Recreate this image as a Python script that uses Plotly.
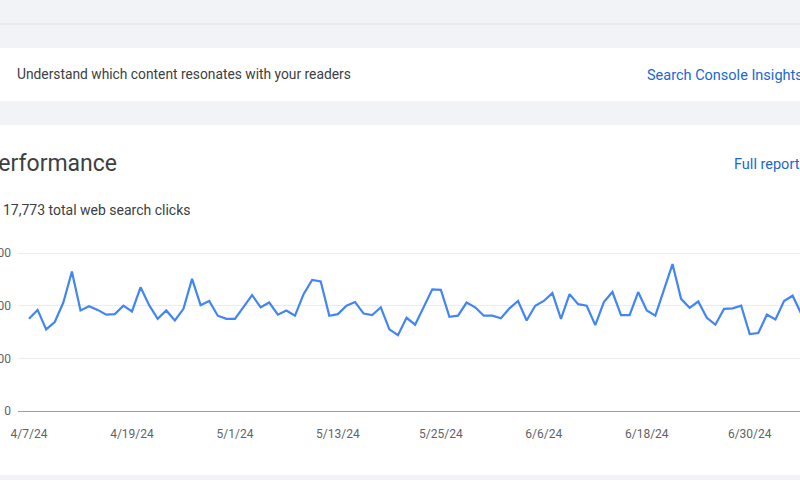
import pandas as pd
import plotly.graph_objects as go

# ---- data ----
start_date = "2024-04-07"
clicks = [
    175, 192, 155, 169, 206, 265, 191, 199, 192, 183, 184, 200, 189, 235, 201,
    175, 191, 172, 194, 251, 201, 209, 181, 175, 175, 197, 220, 197, 206,
    183, 191, 181, 222, 249, 246, 181, 184, 200, 207, 185, 182, 197, 155, 144,
    177, 164, 197, 231, 230, 179, 181, 206, 197, 181, 181, 176, 195, 209, 172,
    200, 209, 224, 175, 222, 203, 200, 163, 207, 226, 182, 182, 226, 191, 181,
    230, 279, 213, 196, 208, 177, 164, 194, 195, 200, 146, 148, 183, 174, 209,
    219, 185,
]
tick_dates = ["2024-04-07", "2024-04-19", "2024-05-01", "2024-05-13",
              "2024-05-25", "2024-06-06", "2024-06-18", "2024-06-30"]
tick_labels = ["4/7/24", "4/19/24", "5/1/24", "5/13/24",
               "5/25/24", "6/6/24", "6/18/24", "6/30/24"]
y_ticks = [0, 100, 200, 300]

dates = pd.date_range(start_date, periods=len(clicks), freq="D")

W, H = 800, 480
def px(x):
    return x / W
def py(y):
    return 1 - y / H

BG = "#f1f3f6"
TEXT = "#3c4043"
BLUE = "#1a67d2"
FONT = "Roboto"

fig = go.Figure()
fig.add_trace(go.Scatter(
    x=dates, y=clicks, mode="lines",
    line=dict(color="#4285f4", width=2.2),
    hoverinfo="x+y", showlegend=False,
))

x0 = pd.Timestamp(start_date) - pd.Timedelta(hours=30.8)
x1 = pd.Timestamp(start_date) + pd.Timedelta(hours=89.86 * 24)

shapes = [
    dict(type="line", xref="paper", yref="paper", x0=0, x1=1, y0=py(24), y1=py(24),
         line=dict(color="#dfe1e5", width=1), layer="below"),
    dict(type="rect", xref="paper", yref="paper", x0=0, x1=1, y0=py(101), y1=py(48),
         fillcolor="white", line=dict(width=0), layer="below"),
    dict(type="rect", xref="paper", yref="paper", x0=0, x1=1, y0=py(475), y1=py(125),
         fillcolor="white", line=dict(width=0), layer="below"),
]

annotations = [
    dict(text="Understand which content resonates with your readers", x=px(15), y=py(74),
         font=dict(size=13.8, color=TEXT, family=FONT)),
    dict(text="Search Console Insights", x=px(645), y=py(75),
         font=dict(size=14.5, color=BLUE, family=FONT)),
    dict(text="Performance", x=px(-18.5), y=py(163),
         font=dict(size=23, color=TEXT, family=FONT)),
    dict(text="Full report", x=px(732), y=py(164),
         font=dict(size=14.5, color=BLUE, family=FONT)),
    dict(text="17,773 total web search clicks", x=px(1), y=py(210),
         font=dict(size=14, color=TEXT, family=FONT)),
]
for a in annotations:
    a.update(xref="paper", yref="paper", xanchor="left", yanchor="middle",
             showarrow=False)

fig.update_layout(
    width=W, height=H,
    margin=dict(l=0, r=0, t=0, b=0, pad=0),
    paper_bgcolor=BG,
    plot_bgcolor="rgba(0,0,0,0)",
    template="none",
    shapes=shapes,
    annotations=annotations,
    xaxis=dict(
        domain=[px(18), 1],
        range=[x0, x1],
        tickvals=tick_dates, ticktext=tick_labels,
        showgrid=False, zeroline=False,
        showline=True, linecolor="#9aa0a6", linewidth=1,
        ticks="", ticklabelstandoff=12,
        tickfont=dict(size=12, color="#5f6368", family=FONT),
        automargin=False, fixedrange=True,
    ),
    yaxis=dict(
        domain=[py(411), py(252)],
        range=[0, 302],
        tickvals=y_ticks,
        showgrid=True, gridcolor="#ececec", gridwidth=1,
        zeroline=False, showline=False,
        ticks="", ticklabelstandoff=6,
        tickfont=dict(size=12, color="#5f6368", family=FONT),
        automargin=False, fixedrange=True,
    ),
)

fig.write_html(
    "out.html",
    config={"displayModeBar": False},
    post_script="document.body.style.margin='0';document.body.style.overflow='hidden';",
)
